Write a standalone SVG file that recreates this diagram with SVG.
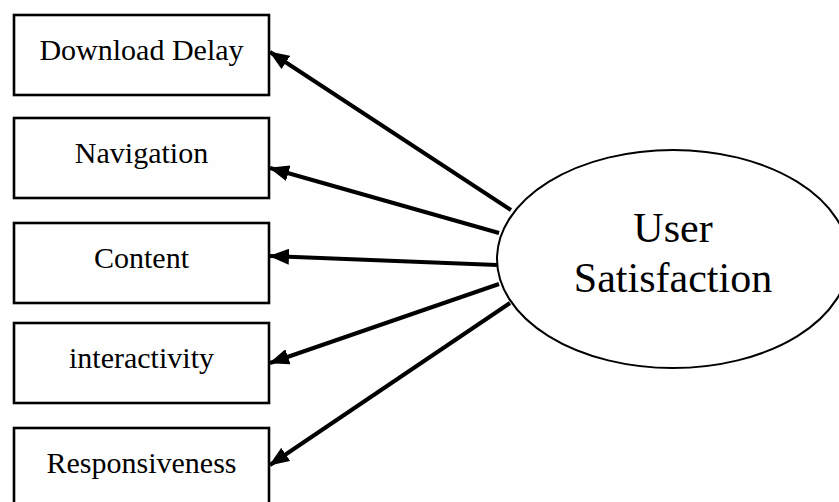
<svg xmlns="http://www.w3.org/2000/svg" width="839" height="502" viewBox="0 0 839 502">
<style>
.box{fill:#fff;stroke:#000;stroke-width:2.6}
.lbl{font-family:"Liberation Serif","Times New Roman",serif;font-size:30px;fill:#000;text-anchor:middle}
.big{font-family:"Liberation Serif","Times New Roman",serif;font-size:42px;fill:#000;text-anchor:middle}
.conn{stroke:#000;stroke-width:4;fill:none;marker-end:url(#ah)}
</style>
<defs>
<marker id="ah" markerUnits="userSpaceOnUse" markerWidth="20" markerHeight="16" refX="19" refY="8" orient="auto">
<path d="M0,0 L20,8 L0,16 Z" fill="#000"/>
</marker>
</defs>
<rect width="839" height="502" fill="#fff"/>
<g id="connectors">
<line class="conn" x1="511" y1="210" x2="270" y2="52"/>
<line class="conn" x1="499" y1="233" x2="270" y2="168"/>
<line class="conn" x1="497" y1="265" x2="270" y2="256"/>
<line class="conn" x1="499" y1="284" x2="270" y2="363"/>
<line class="conn" x1="510" y1="303" x2="270" y2="465"/>
</g>
<g id="download-delay">
<rect class="box" x="14" y="15" width="255" height="80"/>
<text class="lbl" x="141.5" y="60">Download Delay</text>
</g>
<g id="navigation">
<rect class="box" x="14" y="118" width="255" height="80"/>
<text class="lbl" x="141.5" y="163">Navigation</text>
</g>
<g id="content">
<rect class="box" x="14" y="223" width="255" height="80"/>
<text class="lbl" x="141.5" y="268">Content</text>
</g>
<g id="interactivity">
<rect class="box" x="14" y="323" width="255" height="80"/>
<text class="lbl" x="141.5" y="368">interactivity</text>
</g>
<g id="responsiveness">
<rect class="box" x="14" y="428" width="255" height="80"/>
<text class="lbl" x="141.5" y="473">Responsiveness</text>
</g>
<g id="user-satisfaction">
<ellipse cx="673" cy="259" rx="176" ry="109" fill="#fff" stroke="#000" stroke-width="2"/>
<text class="big" x="673" y="242">User</text>
<text class="big" x="673" y="292">Satisfaction</text>
</g>
</svg>
